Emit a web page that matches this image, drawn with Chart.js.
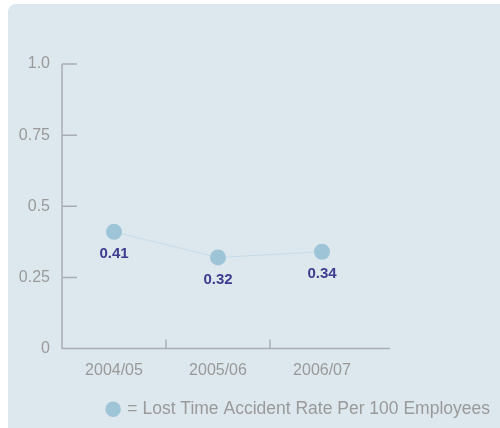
<!DOCTYPE html>
<html lang="en">
	<head>
		<meta charset="utf-8" />
		<title>Lost Time Accident Rate</title>
		<script src="https://cdn.jsdelivr.net/npm/chart.js"></script>
		<style>
			html,
			body {
				margin: 0;
				padding: 0;
				background: #ffffff;
			}
			#wrap {
				position: relative;
				width: 500px;
				height: 428px;
			}
			/* light panel behind the chart */
			#panel {
				position: absolute;
				left: 8px;
				top: 4px;
				width: 492px;
				height: 424px;
				background: #dde7ee;
				border-top-left-radius: 8px;
			}
			#chart {
				position: absolute;
				left: 0;
				top: 0;
			}
		</style>
	</head>
	<body>
		<div id="wrap">
			<div id="panel"></div>
			<canvas id="chart" width="500" height="428"></canvas>
		</div>

		<script>
			// chart data
			var categories = ["2004/05", "2005/06", "2006/07"];
			var rateValues = [0.41, 0.32, 0.34];
			var seriesName = "= Lost Time Accident Rate Per 100 Employees";
			var yTickValues = [0, 0.25, 0.5, 0.75, 1];
			var yTickLabels = ["0", "0.25", "0.5", "0.75", "1.0"];

			var axisGrey = "#a9aeb3";
			var textGrey = "#9a9a9a";
			var fontFamily = "'Liberation Sans', Arial, sans-serif";

			// axis lines + inward tick marks
			var axisMarks = {
				id: "axisMarks",
				beforeDatasetsDraw: function (chart) {
					var ctx = chart.ctx;
					var area = chart.chartArea;
					var xs = chart.scales.x;
					var ys = chart.scales.y;
					ctx.save();
					ctx.strokeStyle = axisGrey;
					ctx.lineWidth = 1.5;
					ctx.beginPath();
					ctx.moveTo(area.left, ys.getPixelForValue(1));
					ctx.lineTo(area.left, area.bottom);
					ctx.lineTo(area.right + 16, area.bottom);
					yTickValues.forEach(function (v) {
						if (v === 0) return;
						var py = ys.getPixelForValue(v);
						ctx.moveTo(area.left, py);
						ctx.lineTo(area.left + 15, py);
					});
					for (var i = 1; i < categories.length; i++) {
						var px = (xs.getPixelForTick(i - 1) + xs.getPixelForTick(i)) / 2;
						ctx.moveTo(px, area.bottom);
						ctx.lineTo(px, area.bottom - 9);
					}
					ctx.stroke();
					ctx.restore();
				},
			};

			// value labels under the points
			var valueLabels = {
				id: "valueLabels",
				afterDatasetsDraw: function (chart) {
					var ctx = chart.ctx;
					var meta = chart.getDatasetMeta(0);
					ctx.save();
					ctx.fillStyle = "#3d3c8f";
					ctx.font = "bold 15px " + fontFamily;
					ctx.textAlign = "center";
					ctx.textBaseline = "middle";
					meta.data.forEach(function (pt, i) {
						ctx.fillText(String(rateValues[i]), pt.x, pt.y + 22);
					});
					ctx.restore();
				},
			};

			var config = {
				type: "line",
				data: {
					labels: categories,
					datasets: [
						{
							label: seriesName,
							data: rateValues,
							borderColor: "#c6dbe7",
							borderWidth: 1,
							backgroundColor: "#9ec4d7",
							pointBackgroundColor: "#9ec4d7",
							pointBorderWidth: 0,
							pointRadius: 8,
							pointHoverRadius: 8,
							tension: 0,
						},
					],
				},
				options: {
					responsive: false,
					animation: false,
					layout: {
						padding: { top: 64, left: 0, right: 0, bottom: 0 },
					},
					plugins: {
						tooltip: { enabled: false },
						legend: {
							position: "bottom",
							align: "end",
							labels: {
								usePointStyle: true,
								pointStyle: "circle",
								boxWidth: 11,
								boxHeight: 11,
								padding: 10,
								color: textGrey,
								font: { family: fontFamily, size: 17.5 },
							},
						},
					},
					scales: {
						x: {
							type: "category",
							offset: true,
							grid: { display: false, drawTicks: false },
							border: { display: false },
							ticks: {
								color: textGrey,
								padding: 12,
								maxRotation: 0,
								font: { family: fontFamily, size: 16 },
							},
							afterFit: function (scale) {
								scale.height = 42;
							},
						},
						y: {
							type: "linear",
							min: 0,
							max: 1,
							grid: { display: false, drawTicks: false },
							border: { display: false },
							ticks: {
								stepSize: 0.25,
								color: textGrey,
								padding: 12,
								font: { family: fontFamily, size: 16 },
								callback: function (value) {
									var i = yTickValues.indexOf(value);
									return i >= 0 ? yTickLabels[i] : "";
								},
							},
							afterFit: function (scale) {
								scale.width = 62;
							},
						},
						// empty right axis only reserves space on the right
						yRight: {
							type: "linear",
							position: "right",
							grid: { display: false },
							border: { display: false },
							ticks: { display: false },
							afterFit: function (scale) {
								scale.width = 126;
							},
						},
					},
				},
				plugins: [axisMarks, valueLabels],
			};

			var myChart = new Chart(document.getElementById("chart"), config);
		</script>
	</body>
</html>
